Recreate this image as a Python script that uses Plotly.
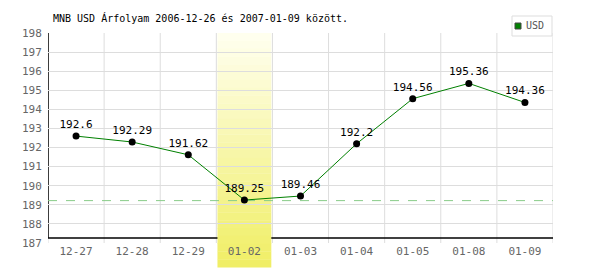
import plotly.graph_objects as go

categories = ["12-27", "12-28", "12-29", "01-02", "01-03", "01-04", "01-05", "01-08", "01-09"]
usd_rates = [192.6, 192.29, 191.62, 189.25, 189.46, 192.2, 194.56, 195.36, 194.36]
label_texts = ["192.6", "192.29", "191.62", "189.25", "189.46", "192.2", "194.56", "195.36", "194.36"]
series_name = "USD"
title_text = "MNB USD Árfolyam 2006-12-26 és 2007-01-09 között."
highlight_category = "01-02"
reference_rate = 189.22
y_min, y_max = 187, 198

W, H = 600, 270
ML, MR, MT, MB = 48, 47, 33, 27
PW, PH = W - ML - MR, H - MT - MB

MONO = "DejaVu Sans Mono"
n = len(categories)
xs = list(range(n))

def px_to_paper_y(py):
    return (H - MB - py) / PH

def px_to_paper_x(px):
    return (px - ML) / PW

shapes = []
# vertical grid lines at category boundaries
for k in range(n + 1):
    shapes.append(dict(type="line", xref="x", yref="paper", x0=k - 0.5, x1=k - 0.5,
                       y0=0, y1=1, line=dict(color="#dddddd", width=1), layer="between"))
# reference dashed line
shapes.append(dict(type="line", xref="x", yref="y", x0=-0.5, x1=n - 0.5,
                   y0=reference_rate, y1=reference_rate,
                   line=dict(color="#88cc88", width=1, dash="dash"), layer="between"))
# black axis lines
ax_y = px_to_paper_y(238)
shapes.append(dict(type="line", xref="x", yref="paper", x0=-0.5, x1=n - 0.5, y0=ax_y, y1=ax_y,
                   line=dict(color="#000000", width=1.5), layer="between"))
shapes.append(dict(type="line", xref="x", yref="paper", x0=-0.5, x1=-0.5, y0=ax_y, y1=1,
                   line=dict(color="#000000", width=1.5), layer="between"))
# highlighted band with vertical gradient
hi = categories.index(highlight_category)
top_c = (255, 255, 240)
bot_c = (240, 238, 100)
band_top = 1.0
band_bot = px_to_paper_y(267)
N = 30
for s in range(N):
    t = (s + 0.5) / N
    c = tuple(int(round(top_c[j] + (bot_c[j] - top_c[j]) * t)) for j in range(3))
    y1 = band_top - (band_top - band_bot) * s / N
    y0 = band_top - (band_top - band_bot) * (s + 1) / N - 0.002
    shapes.append(dict(type="rect", xref="x", yref="paper", x0=hi - 0.5 + 0.02, x1=hi + 0.5 - 0.02,
                       y0=y0, y1=y1, fillcolor="rgb(%d,%d,%d)" % c, line=dict(width=0),
                       layer="between"))
# legend box
shapes.append(dict(type="rect", xref="paper", yref="paper",
                   x0=px_to_paper_x(512), x1=px_to_paper_x(552),
                   y0=px_to_paper_y(36), y1=px_to_paper_y(16),
                   fillcolor="white", line=dict(color="#dddddd", width=1), layer="above"))
shapes.append(dict(type="rect", xref="paper", yref="paper",
                   x0=px_to_paper_x(515), x1=px_to_paper_x(521),
                   y0=px_to_paper_y(29), y1=px_to_paper_y(23),
                   fillcolor="#008000", line=dict(color="#444444", width=1), layer="above"))

fig = go.Figure()
fig.add_trace(go.Scatter(
    x=xs, y=usd_rates, mode="lines+markers+text", text=label_texts,
    textposition="top center", textfont=dict(family=MONO, size=11, color="#000000"),
    line=dict(color="#008000", width=1),
    marker=dict(color="#000000", size=7),
    showlegend=False, cliponaxis=False, hoverinfo="skip",
))

fig.add_annotation(xref="paper", yref="paper", x=px_to_paper_x(524), y=px_to_paper_y(26),
                   xanchor="left", yanchor="middle", text=series_name, showarrow=False,
                   font=dict(family=MONO, size=10, color="#555555"))

fig.update_layout(
    width=W, height=H,
    margin=dict(l=ML, r=MR, t=MT, b=MB),
    paper_bgcolor="white", plot_bgcolor="white",
    title=dict(text=title_text, x=53 / W, xanchor="left", y=1 - 18 / H, yanchor="middle",
               font=dict(family=MONO, size=10, color="#000000")),
    shapes=shapes,
    xaxis=dict(range=[-0.5, n - 0.5], tickmode="array", tickvals=xs, ticktext=categories,
               showgrid=False, zeroline=False, showline=False, ticks="",
               tickfont=dict(family=MONO, size=11, color="#666666"), fixedrange=True),
    yaxis=dict(range=[y_min, y_max], dtick=1, tick0=y_min, showgrid=True, gridcolor="#dddddd",
               gridwidth=1, zeroline=False, showline=False, ticks="outside", ticklen=3,
               tickcolor="rgba(0,0,0,0)",
               tickfont=dict(family=MONO, size=11, color="#666666"), fixedrange=True),
)

fig.write_html("out.html")
